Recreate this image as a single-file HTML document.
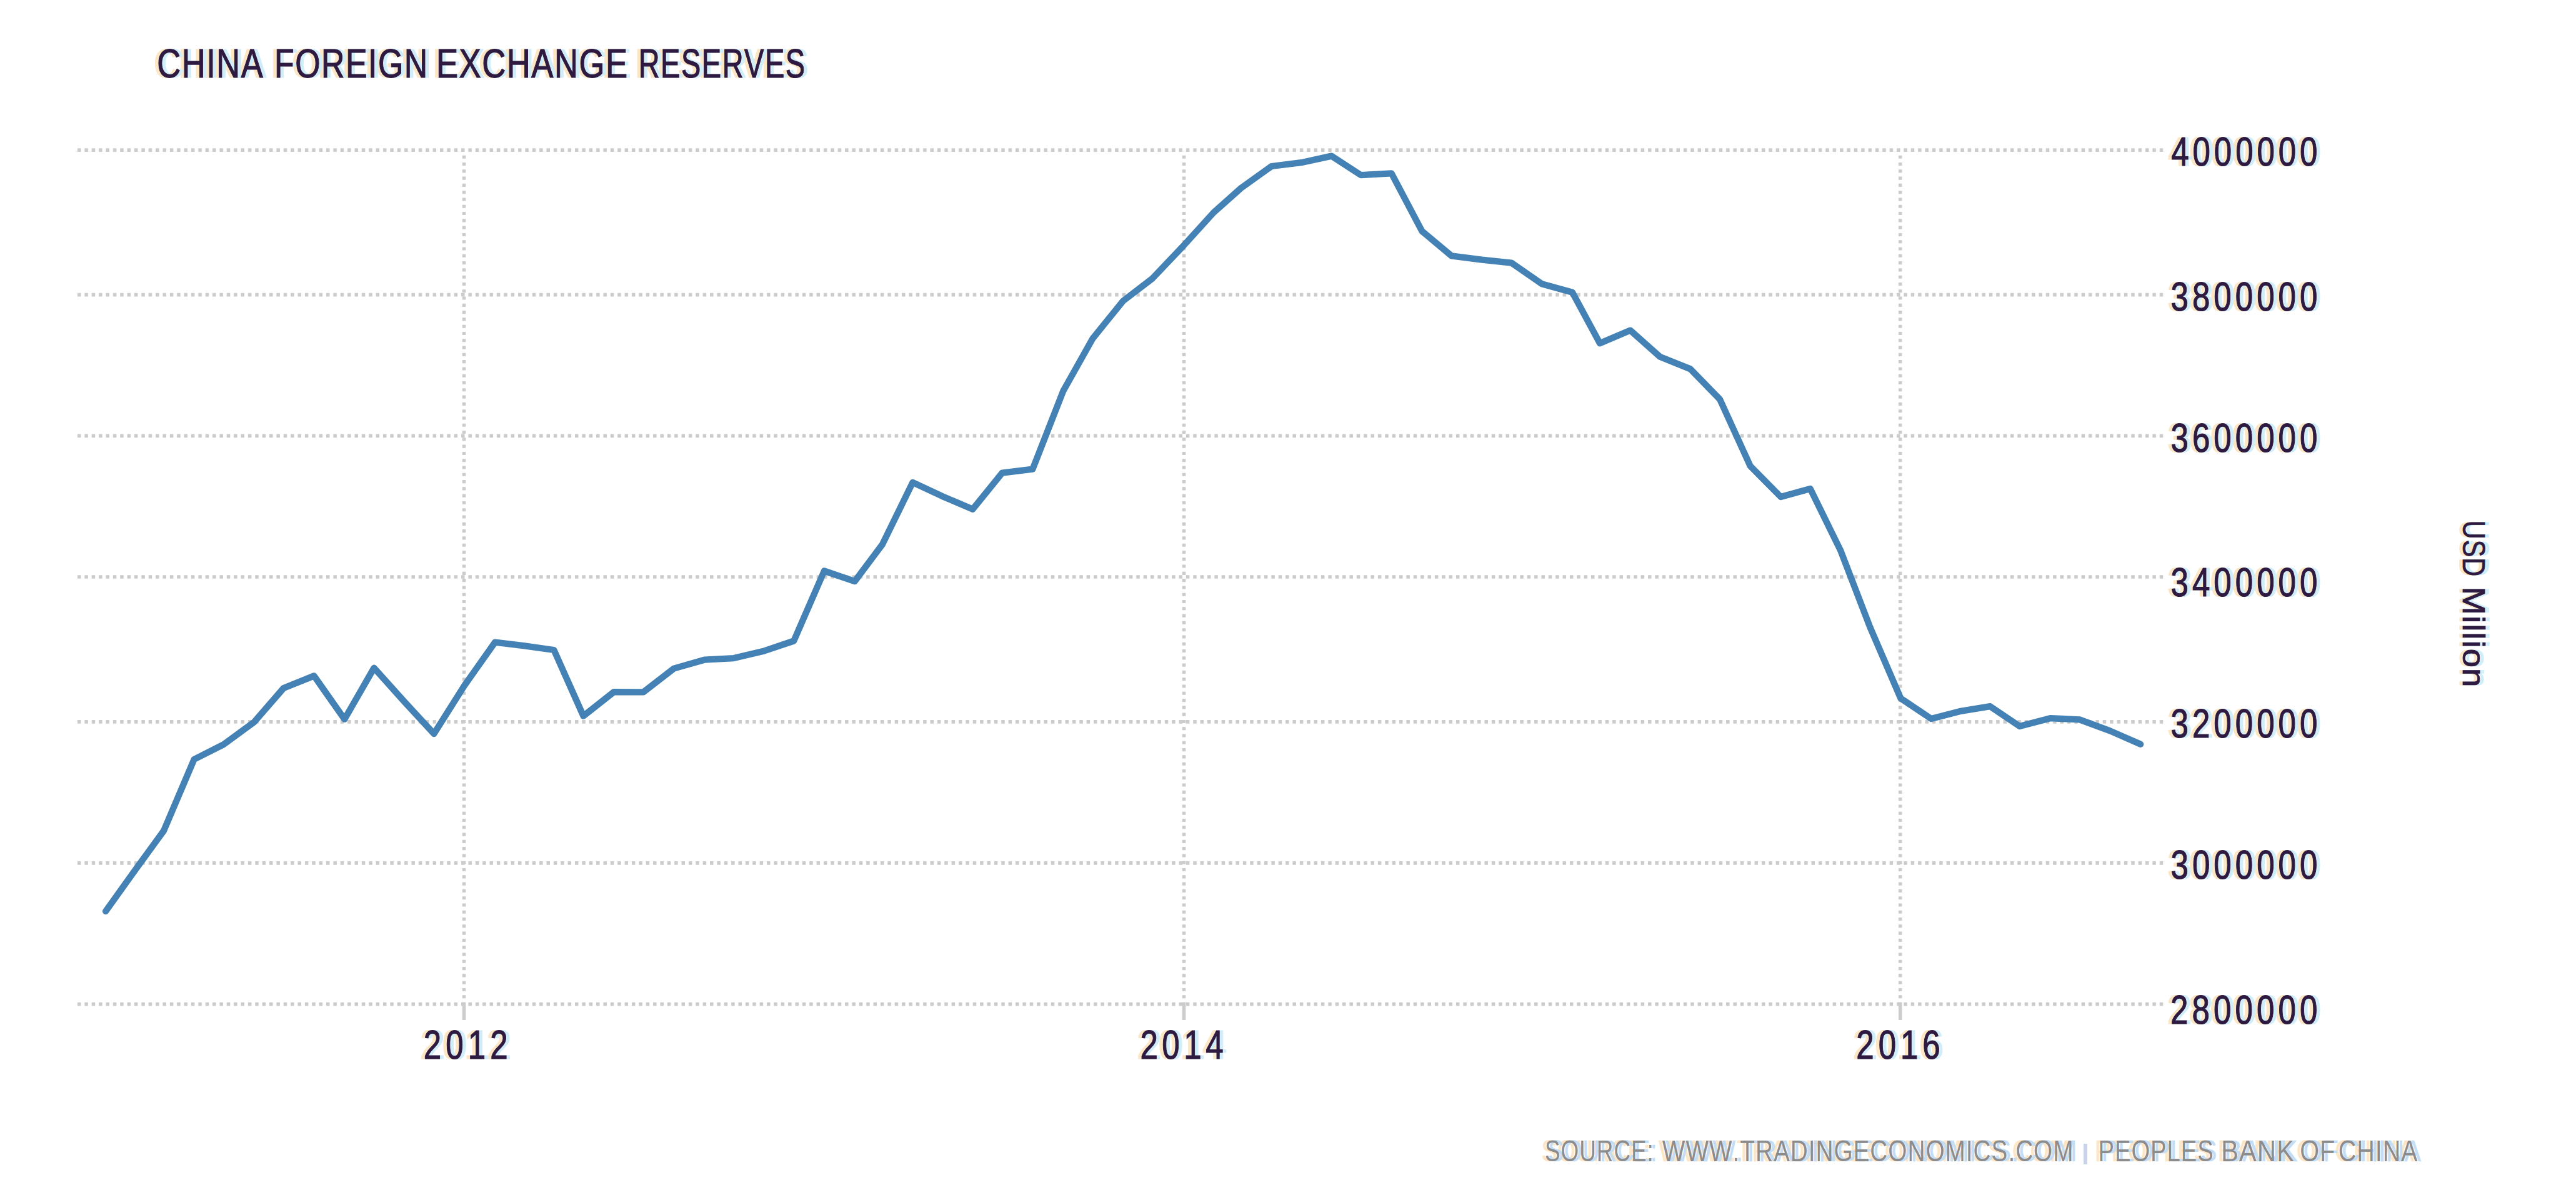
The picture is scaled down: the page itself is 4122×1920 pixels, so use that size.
<!DOCTYPE html>
<html><head><meta charset="utf-8"><style>
html,body{margin:0;padding:0;background:#fff;overflow:hidden;}
svg{display:block;}
text{font-family:"Liberation Sans", sans-serif;font-kerning:none;white-space:pre;}
</style></head><body>
<svg width="4122" height="1920" viewBox="0 0 4122 1920">
<rect width="4122" height="1920" fill="#fff"/>
<g transform="translate(-5.5,0)"><text transform="translate(3474.33,265.20) scale(0.7800,1)" font-size="65.5" letter-spacing="7.515" fill="#fce6c4" stroke="#fce6c4" stroke-width="1.2">4000000</text>
<text transform="translate(3473.55,496.70) scale(0.7800,1)" font-size="65.5" letter-spacing="7.681" fill="#fce6c4" stroke="#fce6c4" stroke-width="1.2">3800000</text>
<text transform="translate(3473.55,722.70) scale(0.7800,1)" font-size="65.5" letter-spacing="7.681" fill="#fce6c4" stroke="#fce6c4" stroke-width="1.2">3600000</text>
<text transform="translate(3473.55,954.00) scale(0.7800,1)" font-size="65.5" letter-spacing="7.681" fill="#fce6c4" stroke="#fce6c4" stroke-width="1.2">3400000</text>
<text transform="translate(3473.55,1179.70) scale(0.7800,1)" font-size="65.5" letter-spacing="7.681" fill="#fce6c4" stroke="#fce6c4" stroke-width="1.2">3200000</text>
<text transform="translate(3473.55,1405.70) scale(0.7800,1)" font-size="65.5" letter-spacing="7.681" fill="#fce6c4" stroke="#fce6c4" stroke-width="1.2">3000000</text>
<text transform="translate(3472.93,1637.50) scale(0.7800,1)" font-size="65.5" letter-spacing="7.814" fill="#fce6c4" stroke="#fce6c4" stroke-width="1.2">2800000</text>
<text transform="translate(677.83,1693.80) scale(0.7800,1)" font-size="65.5" letter-spacing="9.010" fill="#fce6c4" stroke="#fce6c4" stroke-width="1.2">2012</text>
<text transform="translate(1824.43,1693.80) scale(0.7800,1)" font-size="65.5" letter-spacing="8.381" fill="#fce6c4" stroke="#fce6c4" stroke-width="1.2">2014</text>
<text transform="translate(2970.33,1693.80) scale(0.7800,1)" font-size="65.5" letter-spacing="8.872" fill="#fce6c4" stroke="#fce6c4" stroke-width="1.2">2016</text>
<text transform="translate(251.33,123.90) scale(0.8016,1)" font-size="65.5" letter-spacing="1.871" fill="#fce6c4" stroke="#fce6c4" stroke-width="1.2">CHINA</text>
<text transform="translate(439.05,123.90) scale(0.7915,1)" font-size="65.5" letter-spacing="1.895" fill="#fce6c4" stroke="#fce6c4" stroke-width="1.2">FOREIGN</text>
<text transform="translate(697.98,123.90) scale(0.8044,1)" font-size="65.5" letter-spacing="1.865" fill="#fce6c4" stroke="#fce6c4" stroke-width="1.2">EXCHANGE</text>
<text transform="translate(1021.64,123.90) scale(0.7177,1)" font-size="65.5" letter-spacing="2.090" fill="#fce6c4" stroke="#fce6c4" stroke-width="1.2">RESERVES</text>
<g transform="translate(3941,0) rotate(90)"><text transform="translate(832.82,0.00) scale(0.8357,1)" font-size="49.4" letter-spacing="1.197" fill="#fce6c4" stroke="#fce6c4" stroke-width="1.2">USD</text><text transform="translate(938.51,0.00) scale(1.1074,1)" font-size="49.4" letter-spacing="0.903" fill="#fce6c4" stroke="#fce6c4" stroke-width="1.2">Million</text></g>
<text transform="translate(2471.93,1857.50) scale(0.7616,1)" font-size="48.4" letter-spacing="1.313" fill="#fde6c8" stroke="#fde6c8" stroke-width="0.6">SOURCE:</text>
<text transform="translate(2659.83,1857.50) scale(0.8003,1)" font-size="48.4" letter-spacing="1.250" fill="#fde6c8" stroke="#fde6c8" stroke-width="0.6">WWW.TRADINGECONOMICS.COM</text>
<text transform="translate(3357.47,1857.50) scale(0.7890,1)" font-size="48.4" letter-spacing="1.268" fill="#fde6c8" stroke="#fde6c8" stroke-width="0.6">PEOPLES</text>
<text transform="translate(3553.97,1857.50) scale(0.8642,1)" font-size="48.4" letter-spacing="1.157" fill="#fde6c8" stroke="#fde6c8" stroke-width="0.6">BANK</text>
<text transform="translate(3680.13,1857.50) scale(0.8177,1)" font-size="48.4" letter-spacing="1.223" fill="#fde6c8" stroke="#fde6c8" stroke-width="0.6">OF</text>
<text transform="translate(3741.70,1857.50) scale(0.8153,1)" font-size="48.4" letter-spacing="1.226" fill="#fde6c8" stroke="#fde6c8" stroke-width="0.6">CHINA</text></g>
<g transform="translate(5.5,0)"><text transform="translate(3474.33,265.20) scale(0.7800,1)" font-size="65.5" letter-spacing="7.515" fill="#d0eefa" stroke="#d0eefa" stroke-width="1.2">4000000</text>
<text transform="translate(3473.55,496.70) scale(0.7800,1)" font-size="65.5" letter-spacing="7.681" fill="#d0eefa" stroke="#d0eefa" stroke-width="1.2">3800000</text>
<text transform="translate(3473.55,722.70) scale(0.7800,1)" font-size="65.5" letter-spacing="7.681" fill="#d0eefa" stroke="#d0eefa" stroke-width="1.2">3600000</text>
<text transform="translate(3473.55,954.00) scale(0.7800,1)" font-size="65.5" letter-spacing="7.681" fill="#d0eefa" stroke="#d0eefa" stroke-width="1.2">3400000</text>
<text transform="translate(3473.55,1179.70) scale(0.7800,1)" font-size="65.5" letter-spacing="7.681" fill="#d0eefa" stroke="#d0eefa" stroke-width="1.2">3200000</text>
<text transform="translate(3473.55,1405.70) scale(0.7800,1)" font-size="65.5" letter-spacing="7.681" fill="#d0eefa" stroke="#d0eefa" stroke-width="1.2">3000000</text>
<text transform="translate(3472.93,1637.50) scale(0.7800,1)" font-size="65.5" letter-spacing="7.814" fill="#d0eefa" stroke="#d0eefa" stroke-width="1.2">2800000</text>
<text transform="translate(677.83,1693.80) scale(0.7800,1)" font-size="65.5" letter-spacing="9.010" fill="#d0eefa" stroke="#d0eefa" stroke-width="1.2">2012</text>
<text transform="translate(1824.43,1693.80) scale(0.7800,1)" font-size="65.5" letter-spacing="8.381" fill="#d0eefa" stroke="#d0eefa" stroke-width="1.2">2014</text>
<text transform="translate(2970.33,1693.80) scale(0.7800,1)" font-size="65.5" letter-spacing="8.872" fill="#d0eefa" stroke="#d0eefa" stroke-width="1.2">2016</text>
<text transform="translate(251.33,123.90) scale(0.8016,1)" font-size="65.5" letter-spacing="1.871" fill="#d0eefa" stroke="#d0eefa" stroke-width="1.2">CHINA</text>
<text transform="translate(439.05,123.90) scale(0.7915,1)" font-size="65.5" letter-spacing="1.895" fill="#d0eefa" stroke="#d0eefa" stroke-width="1.2">FOREIGN</text>
<text transform="translate(697.98,123.90) scale(0.8044,1)" font-size="65.5" letter-spacing="1.865" fill="#d0eefa" stroke="#d0eefa" stroke-width="1.2">EXCHANGE</text>
<text transform="translate(1021.64,123.90) scale(0.7177,1)" font-size="65.5" letter-spacing="2.090" fill="#d0eefa" stroke="#d0eefa" stroke-width="1.2">RESERVES</text>
<g transform="translate(3941,0) rotate(90)"><text transform="translate(832.82,0.00) scale(0.8357,1)" font-size="49.4" letter-spacing="1.197" fill="#d0eefa" stroke="#d0eefa" stroke-width="1.2">USD</text><text transform="translate(938.51,0.00) scale(1.1074,1)" font-size="49.4" letter-spacing="0.903" fill="#d0eefa" stroke="#d0eefa" stroke-width="1.2">Million</text></g>
<text transform="translate(2471.93,1857.50) scale(0.7616,1)" font-size="48.4" letter-spacing="1.313" fill="#c4dcf4" stroke="#c4dcf4" stroke-width="0.6">SOURCE:</text>
<text transform="translate(2659.83,1857.50) scale(0.8003,1)" font-size="48.4" letter-spacing="1.250" fill="#c4dcf4" stroke="#c4dcf4" stroke-width="0.6">WWW.TRADINGECONOMICS.COM</text>
<text transform="translate(3357.47,1857.50) scale(0.7890,1)" font-size="48.4" letter-spacing="1.268" fill="#c4dcf4" stroke="#c4dcf4" stroke-width="0.6">PEOPLES</text>
<text transform="translate(3553.97,1857.50) scale(0.8642,1)" font-size="48.4" letter-spacing="1.157" fill="#c4dcf4" stroke="#c4dcf4" stroke-width="0.6">BANK</text>
<text transform="translate(3680.13,1857.50) scale(0.8177,1)" font-size="48.4" letter-spacing="1.223" fill="#c4dcf4" stroke="#c4dcf4" stroke-width="0.6">OF</text>
<text transform="translate(3741.70,1857.50) scale(0.8153,1)" font-size="48.4" letter-spacing="1.226" fill="#c4dcf4" stroke="#c4dcf4" stroke-width="0.6">CHINA</text></g>
<line x1="124" y1="240.1" x2="3461.5" y2="240.1" stroke="#cccccc" stroke-width="5.7" stroke-dasharray="5.5 5.871"/>
<line x1="124" y1="471.6" x2="3461.5" y2="471.6" stroke="#cccccc" stroke-width="5.7" stroke-dasharray="5.5 5.871"/>
<line x1="124" y1="697.4" x2="3461.5" y2="697.4" stroke="#cccccc" stroke-width="5.7" stroke-dasharray="5.5 5.871"/>
<line x1="124" y1="923.0" x2="3461.5" y2="923.0" stroke="#cccccc" stroke-width="5.7" stroke-dasharray="5.5 5.871"/>
<line x1="124" y1="1154.8" x2="3461.5" y2="1154.8" stroke="#cccccc" stroke-width="5.7" stroke-dasharray="5.5 5.871"/>
<line x1="124" y1="1380.8" x2="3461.5" y2="1380.8" stroke="#cccccc" stroke-width="5.7" stroke-dasharray="5.5 5.871"/>
<line x1="124" y1="1606.6" x2="3461.5" y2="1606.6" stroke="#cccccc" stroke-width="5.7" stroke-dasharray="5.5 5.871"/>
<line x1="742.5" y1="248.7" x2="742.5" y2="1604" stroke="#cccccc" stroke-width="5.6" stroke-dasharray="5.1 6.19"/>
<line x1="742.5" y1="1604" x2="742.5" y2="1632" stroke="#cccccc" stroke-width="5.6"/>
<line x1="1894.5" y1="248.7" x2="1894.5" y2="1604" stroke="#cccccc" stroke-width="5.6" stroke-dasharray="5.1 6.19"/>
<line x1="1894.5" y1="1604" x2="1894.5" y2="1632" stroke="#cccccc" stroke-width="5.6"/>
<line x1="3040.7" y1="248.7" x2="3040.7" y2="1604" stroke="#cccccc" stroke-width="5.6" stroke-dasharray="5.1 6.19"/>
<line x1="3040.7" y1="1604" x2="3040.7" y2="1632" stroke="#cccccc" stroke-width="5.6"/>
<text transform="translate(3474.33,265.20) scale(0.7800,1)" font-size="65.5" letter-spacing="7.515" fill="#2e1a40" stroke="#2e1a40" stroke-width="1.2">4000000</text>
<text transform="translate(3473.55,496.70) scale(0.7800,1)" font-size="65.5" letter-spacing="7.681" fill="#2e1a40" stroke="#2e1a40" stroke-width="1.2">3800000</text>
<text transform="translate(3473.55,722.70) scale(0.7800,1)" font-size="65.5" letter-spacing="7.681" fill="#2e1a40" stroke="#2e1a40" stroke-width="1.2">3600000</text>
<text transform="translate(3473.55,954.00) scale(0.7800,1)" font-size="65.5" letter-spacing="7.681" fill="#2e1a40" stroke="#2e1a40" stroke-width="1.2">3400000</text>
<text transform="translate(3473.55,1179.70) scale(0.7800,1)" font-size="65.5" letter-spacing="7.681" fill="#2e1a40" stroke="#2e1a40" stroke-width="1.2">3200000</text>
<text transform="translate(3473.55,1405.70) scale(0.7800,1)" font-size="65.5" letter-spacing="7.681" fill="#2e1a40" stroke="#2e1a40" stroke-width="1.2">3000000</text>
<text transform="translate(3472.93,1637.50) scale(0.7800,1)" font-size="65.5" letter-spacing="7.814" fill="#2e1a40" stroke="#2e1a40" stroke-width="1.2">2800000</text>
<text transform="translate(677.83,1693.80) scale(0.7800,1)" font-size="65.5" letter-spacing="9.010" fill="#2e1a40" stroke="#2e1a40" stroke-width="1.2">2012</text>
<text transform="translate(1824.43,1693.80) scale(0.7800,1)" font-size="65.5" letter-spacing="8.381" fill="#2e1a40" stroke="#2e1a40" stroke-width="1.2">2014</text>
<text transform="translate(2970.33,1693.80) scale(0.7800,1)" font-size="65.5" letter-spacing="8.872" fill="#2e1a40" stroke="#2e1a40" stroke-width="1.2">2016</text>
<text transform="translate(251.33,123.90) scale(0.8016,1)" font-size="65.5" letter-spacing="1.871" fill="#2e1a40" stroke="#2e1a40" stroke-width="1.2">CHINA</text>
<text transform="translate(439.05,123.90) scale(0.7915,1)" font-size="65.5" letter-spacing="1.895" fill="#2e1a40" stroke="#2e1a40" stroke-width="1.2">FOREIGN</text>
<text transform="translate(697.98,123.90) scale(0.8044,1)" font-size="65.5" letter-spacing="1.865" fill="#2e1a40" stroke="#2e1a40" stroke-width="1.2">EXCHANGE</text>
<text transform="translate(1021.64,123.90) scale(0.7177,1)" font-size="65.5" letter-spacing="2.090" fill="#2e1a40" stroke="#2e1a40" stroke-width="1.2">RESERVES</text>
<g transform="translate(3941,0) rotate(90)"><text transform="translate(832.82,0.00) scale(0.8357,1)" font-size="49.4" letter-spacing="1.197" fill="#2e1a40" stroke="#2e1a40" stroke-width="0.8">USD</text><text transform="translate(938.51,0.00) scale(1.1074,1)" font-size="49.4" letter-spacing="0.903" fill="#2e1a40" stroke="#2e1a40" stroke-width="0.8">Million</text></g>
<text transform="translate(2471.93,1857.50) scale(0.7616,1)" font-size="48.4" letter-spacing="1.313" fill="#8c8c8c" >SOURCE:</text>
<text transform="translate(2659.83,1857.50) scale(0.8003,1)" font-size="48.4" letter-spacing="1.250" fill="#8c8c8c" >WWW.TRADINGECONOMICS.COM</text>
<text transform="translate(3357.47,1857.50) scale(0.7890,1)" font-size="48.4" letter-spacing="1.268" fill="#8c8c8c" >PEOPLES</text>
<text transform="translate(3553.97,1857.50) scale(0.8642,1)" font-size="48.4" letter-spacing="1.157" fill="#8c8c8c" >BANK</text>
<text transform="translate(3680.13,1857.50) scale(0.8177,1)" font-size="48.4" letter-spacing="1.223" fill="#8c8c8c" >OF</text>
<text transform="translate(3741.70,1857.50) scale(0.8153,1)" font-size="48.4" letter-spacing="1.226" fill="#8c8c8c" >CHINA</text>
<rect x="3334" y="1830" width="6" height="33" fill="#c9d3ea"/>
<path d="M169.1 1458.0 L217.8 1390.1 L261.9 1329.4 L310.6 1215.0 L357.8 1191.1 L406.6 1155.4 L453.8 1101.0 L502.5 1081.4 L551.3 1150.7 L598.5 1068.6 L647.3 1123.0 L694.4 1174.1 L743.2 1096.8 L792.0 1027.7 L837.6 1033.1 L886.4 1040.0 L933.5 1145.6 L982.3 1107.1 L1029.5 1107.4 L1078.3 1069.6 L1127.0 1055.7 L1174.2 1053.1 L1223.0 1041.4 L1270.2 1025.5 L1318.9 913.5 L1367.7 930.1 L1411.7 871.4 L1460.5 771.8 L1507.7 793.9 L1556.5 814.8 L1603.7 756.6 L1652.4 750.7 L1701.2 625.8 L1748.4 541.7 L1797.1 481.5 L1844.3 445.3 L1893.1 393.9 L1941.9 340.1 L1985.9 300.9 L2034.7 266.0 L2081.9 260.2 L2130.6 249.6 L2177.8 280.2 L2226.6 277.3 L2275.3 369.7 L2322.5 409.3 L2371.3 415.6 L2418.5 420.6 L2467.2 454.3 L2516.0 467.8 L2560.0 549.2 L2608.8 528.6 L2656.0 570.7 L2704.8 590.4 L2752.0 638.8 L2800.7 745.7 L2849.5 795.0 L2896.7 782.0 L2945.4 881.3 L2992.6 1004.1 L3041.4 1117.4 L3090.2 1150.0 L3135.8 1138.2 L3184.5 1130.2 L3231.7 1162.0 L3280.5 1149.2 L3327.7 1151.3 L3376.4 1169.4 L3425.2 1190.8" fill="none" stroke="#4482b5" stroke-width="10.3" stroke-linejoin="round" stroke-linecap="round"/>
</svg>
</body></html>
